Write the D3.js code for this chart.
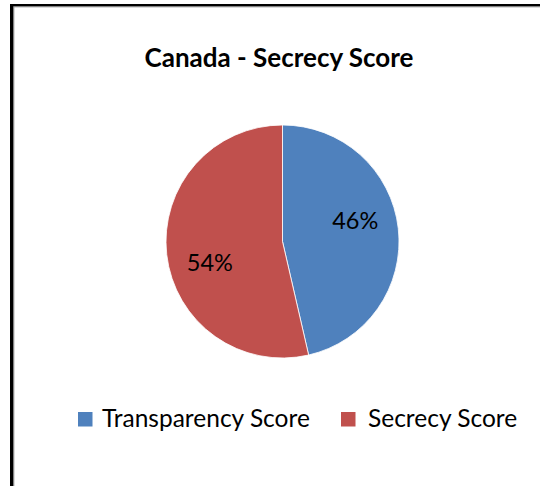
<!DOCTYPE html>
<html>
<head>
<meta charset="utf-8">
<script src="https://cdn.jsdelivr.net/npm/d3@7"></script>
<style>
  body { margin: 0; background: #fff; }
  svg { display: block; font-family: Lato, "Open Sans", sans-serif; }
</style>
</head>
<body>
<div id="chart"></div>
<script>
// chart data
const title = "Canada - Secrecy Score";
const categories = ["Transparency Score", "Secrecy Score"];
const values = [46.4, 53.6];
const colors = ["#4F81BD", "#C0504D"];

const width = 540, height = 486;
const cx = 282.5, cy = 241.5, radius = 116.5;

const svg = d3.select("#chart")
  .append("svg")
    .attr("width", width)
    .attr("height", height);

// frame (only top and left edge visible in the crop)
svg.append("rect").attr("x", 10).attr("y", 4).attr("width", width - 10).attr("height", 2.5).attr("fill", "#000");
svg.append("rect").attr("x", 10).attr("y", 4).attr("width", 3.5).attr("height", height - 4).attr("fill", "#000");
svg.append("rect").attr("x", 13.5).attr("y", 6.5).attr("width", 0.8).attr("height", height).attr("fill", "#888");
svg.append("rect").attr("x", 13.5).attr("y", 6.5).attr("width", width).attr("height", 0.8).attr("fill", "#888");

// title
svg.append("text")
  .attr("x", 279)
  .attr("y", 67)
  .attr("text-anchor", "middle")
  .style("font-weight", "bold")
  .style("font-size", "26px")
  .text(title);

const total = d3.sum(values);
const pie = d3.pie().sort(null).value(d => d);
const arcs = pie(values);

const arc = d3.arc().innerRadius(0).outerRadius(radius);

const g = svg.append("g").attr("transform", `translate(${cx},${cy})`);

g.selectAll("path")
  .data(arcs)
  .enter()
  .append("path")
    .attr("d", arc)
    .attr("fill", (d, i) => colors[i])
    .attr("stroke", "#fff")
    .attr("stroke-width", 0.8);

// labels: a bit inside the slice, rotated slightly like Excel's best fit
const fmt = d3.format(".0%");
g.selectAll("text.lbl")
  .data(arcs)
  .enter()
  .append("text")
    .attr("class", "lbl")
    .attr("x", d => {
      const a = (d.startAngle + d.endAngle) / 2 - 0.17;
      return Math.sin(a) * radius * 0.65;
    })
    .attr("y", d => {
      const a = (d.startAngle + d.endAngle) / 2 - 0.17;
      return -Math.cos(a) * radius * 0.65;
    })
    .attr("dy", "0.35em")
    .attr("text-anchor", "middle")
    .style("font-size", "23.5px")
    .attr("fill", "#000")
    .text(d => fmt(d.value / total));

// legend
const legendX = [78, 341];
const legend = svg.append("g");
const item = legend.selectAll("g")
  .data(categories)
  .enter()
  .append("g")
    .attr("transform", (d, i) => `translate(${legendX[i]},412)`);

item.append("rect")
  .attr("width", 14.5)
  .attr("height", 14.5)
  .attr("fill", (d, i) => colors[i]);

item.append("text")
  .attr("x", (d, i) => i === 0 ? 24 : 27)
  .attr("y", 15)
  .style("font-size", "24.5px")
  .text(d => d);
</script>
</body>
</html>
